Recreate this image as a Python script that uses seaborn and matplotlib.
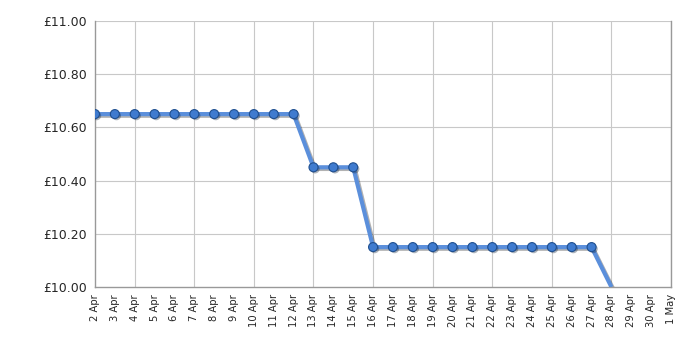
import matplotlib
matplotlib.use("Agg")
import matplotlib.pyplot as plt
import matplotlib.patheffects as pe
import seaborn as sns
import pandas as pd

dates = pd.date_range("2024-04-02", "2024-04-28", freq="D")
prices = [10.65]*11 + [10.45]*3 + [10.15]*12 + [10.00]
tick_dates = pd.date_range("2024-04-02", "2024-05-01", freq="D")
tick_labels = [f"{d.day} {d.strftime('%b')}" for d in tick_dates]
y_ticks = [10.00, 10.20, 10.40, 10.60, 10.80, 11.00]

df = pd.DataFrame({"date": dates, "price": prices})
df_m = df.iloc[:-1]

sns.set_style("white")
plt.rcParams['font.family'] = ['DejaVu Sans']
fig = plt.figure(figsize=(7, 3.5), dpi=100)
ax = fig.add_axes([0.1357, 0.18, 0.8229, 0.76])

shadow = [pe.SimpleLineShadow(offset=(1.2, -1.2), alpha=0.3, shadow_color="black"), pe.Normal()]
sns.lineplot(data=df, x="date", y="price", ax=ax, color="#5b8fdb", linewidth=3,
             solid_capstyle="butt", path_effects=shadow, zorder=3)
sns.scatterplot(data=df_m, x="date", y="price", ax=ax, color="#3f7bcf", s=42,
                edgecolor="#1f4f8f", linewidth=0.8, zorder=4,
                path_effects=[pe.SimplePatchShadow(offset=(1.2, -1.2), alpha=0.35), pe.Normal()])

ax.set_xlim(tick_dates[0], tick_dates[-1])
ax.set_ylim(10.0, 11.0)
ax.set_yticks(y_ticks)
ax.set_yticklabels([f"£{v:.2f}" for v in y_ticks], fontsize=9)
ax.set_xticks(tick_dates)
ax.set_xticklabels(tick_labels, rotation=90, fontsize=7.2)
ax.set_xlabel("")
ax.set_ylabel("")

major_idx = [i for i in range(len(tick_dates)) if (i - 2) % 3 == 0]
for i in major_idx:
    ax.axvline(tick_dates[i], color="#c8c8c8", linewidth=0.8, zorder=0)
for v in y_ticks[1:]:
    ax.axhline(v, color="#c8c8c8", linewidth=0.8, zorder=0)

for s in ["left", "bottom", "right"]:
    ax.spines[s].set_visible(True)
    ax.spines[s].set_color("#999999")
    ax.spines[s].set_linewidth(1)
ax.spines["top"].set_visible(False)
ax.tick_params(axis="y", length=5, color="#333333", pad=1)
ax.tick_params(axis="x", length=3, color="#333333", pad=2)
for i, t in enumerate(ax.xaxis.get_major_ticks()):
    if i in major_idx or i == len(tick_dates) - 1:
        t.tick1line.set_markersize(5)

fig.savefig("out.png", dpi=100)
